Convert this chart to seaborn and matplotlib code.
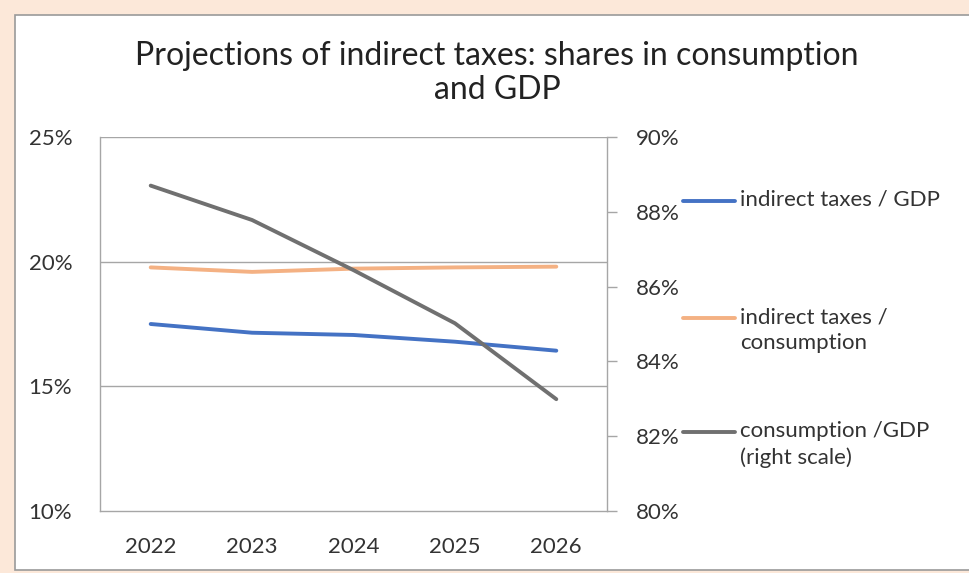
import matplotlib
matplotlib.use("Agg")
import matplotlib.pyplot as plt
from matplotlib.patches import Rectangle
from matplotlib.lines import Line2D
from matplotlib.ticker import FuncFormatter
import pandas as pd
import seaborn as sns

years = ["2022", "2023", "2024", "2025", "2026"]
taxes_gdp = [17.50, 17.15, 17.06, 16.79, 16.43]
taxes_consumption = [19.77, 19.59, 19.72, 19.77, 19.80]
consumption_gdp = [88.70, 87.78, 86.44, 85.02, 82.99]

labels = ["indirect taxes / GDP", "indirect taxes /\nconsumption",
          "consumption /GDP\n(right scale)"]
colors = ["#4472C4", "#F4B183", "#707070"]

sns.set_theme(style="white")
plt.rcParams["font.family"] = ["Lato", "DejaVu Sans"]

W, H = 970, 573
fig = plt.figure(figsize=(W / 100, H / 100), dpi=100)
fig.patch.set_facecolor("#FCE8D9")

# white chart panel with grey frame, kept behind the axes
fig.patches.append(Rectangle((15 / W, 1 - 570 / H), 1.0, (570 - 15) / H,
                             transform=fig.transFigure, facecolor="white",
                             edgecolor="#9A9A9A", linewidth=1.2, zorder=-5))

ax = fig.add_axes([100 / W, 1 - 511 / H, (607 - 100) / W, (511 - 137) / H])
ax.set_zorder(1)
ax.set_facecolor("none")

LBL = 16
df_left = pd.DataFrame({"year": years, "a": taxes_gdp, "b": taxes_consumption})
sns.lineplot(data=df_left, x="year", y="a", ax=ax, color=colors[0],
             linewidth=2.8, sort=False, zorder=3)
sns.lineplot(data=df_left, x="year", y="b", ax=ax, color=colors[1],
             linewidth=2.8, sort=False, zorder=3)
ax.set_xlim(-0.5, 4.5)
ax.set_ylim(10, 25)
ax.set_yticks([10, 15, 20, 25])
ax.yaxis.set_major_formatter(FuncFormatter(lambda v, p: f"{v:.0f}%"))
ax.set_xlabel("")
ax.set_ylabel("")
for v in [15, 20, 25]:
    ax.axhline(v, color="#A6A6A6", linewidth=1.0, zorder=1)
for s in ["top", "right"]:
    ax.spines[s].set_visible(False)
for s in ["left", "bottom"]:
    ax.spines[s].set_color("#A6A6A6")
    ax.spines[s].set_linewidth(1.0)
ax.tick_params(axis="y", length=0, pad=20, labelsize=LBL, labelcolor="#333333")
ax.tick_params(axis="x", length=0, pad=19, labelsize=LBL, labelcolor="#333333")

ax2 = ax.twinx()
ax2.set_facecolor("none")
df_right = pd.DataFrame({"year": years, "c": consumption_gdp})
sns.lineplot(data=df_right, x="year", y="c", ax=ax2, color=colors[2],
             linewidth=2.8, sort=False, zorder=3)
ax2.set_xlim(-0.5, 4.5)
ax2.set_ylim(80, 90)
ax2.set_yticks([80, 82, 84, 86, 88, 90])
ax2.yaxis.set_major_formatter(FuncFormatter(lambda v, p: f"{v:.0f}%"))
ax2.set_ylabel("")
for s in ["top", "left", "bottom"]:
    ax2.spines[s].set_visible(False)
ax2.spines["right"].set_color("#A6A6A6")
ax2.spines["right"].set_linewidth(1.0)
ax2.tick_params(axis="y", direction="out", length=7, width=1.0,
                color="#A6A6A6", pad=14, labelsize=LBL, labelcolor="#333333")

fig.text(497 / W, 1 - 73 / H,
         "Projections of indirect taxes: shares in consumption\nand GDP",
         ha="center", va="center", fontsize=23, color="#222222",
         linespacing=1.2)

# legend entries
legend_rows = [201, 318, 432]
for lab, col, y in zip(labels, colors, legend_rows):
    yf = 1 - y / H
    fig.lines.append(Line2D([683 / W, 735 / W], [yf, yf],
                            transform=fig.transFigure, color=col,
                            linewidth=2.8))
    fig.text(740 / W, yf + 11 / H, lab, ha="left", va="top", fontsize=LBL,
             color="#333333", linespacing=1.4)

fig.savefig("out.png", dpi=100, facecolor=fig.get_facecolor())
